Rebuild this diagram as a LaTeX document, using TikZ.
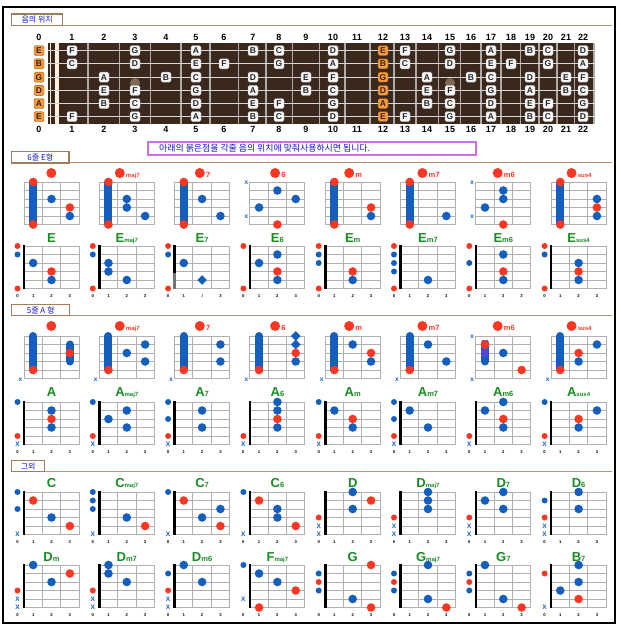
\documentclass[tikz,border=0pt]{standalone}
\usepackage{fontspec}
\setmainfont{Liberation Sans}
\newfontfamily\krfont{Noto Sans CJK KR}
\definecolor{cblue}{RGB}{20,95,190}
\definecolor{cred}{RGB}{250,55,35}
\definecolor{cgreen}{RGB}{25,140,35}
\definecolor{hdrline}{RGB}{185,150,115}
\definecolor{hdrbox}{RGB}{160,125,90}
\definecolor{board}{RGB}{58,40,28}
\definecolor{orangelab}{RGB}{245,155,65}
\definecolor{violetb}{RGB}{205,110,235}
\definecolor{hblue}{RGB}{20,20,205}
\definecolor{fretc}{RGB}{175,170,165}
\definecolor{strc}{RGB}{215,215,215}
\definecolor{markc}{RGB}{125,105,85}
\definecolor{purp}{RGB}{85,70,210}
\tikzset{
  gline/.style={draw=gray!62,line width=0.9pt},
  gname/.style={text=cgreen,font=\bfseries\fontsize{13}{13}\selectfont,inner sep=0pt},
  rsuf/.style={text=cred,font=\bfseries\fontsize{7.5}{7.5}\selectfont,inner sep=0pt},
  numlab/.style={font=\bfseries\fontsize{4.2}{4.2}\selectfont,inner sep=0pt},
  mutex/.style={text=cblue,font=\bfseries\fontsize{6.5}{6.5}\selectfont,inner sep=0pt},
  notebox/.style={draw=gray!65,fill=gray!6,rounded corners=1.5pt,minimum width=10pt,minimum height=10pt,inner sep=0pt,font=\bfseries\fontsize{8.5}{8.5}\selectfont,text=black!85},
  openbox/.style={notebox,fill=orangelab,draw=orange!60!black,text=black!75!orange},
  fnum/.style={font=\bfseries\fontsize{9}{9}\selectfont,inner sep=0pt},
  hdrframe/.style={draw=hdrbox,line width=1.4pt,fill=white},
  hdrrule/.style={draw=hdrline,line width=1.3pt},
  hdrtext/.style={text=hblue,font=\krfont\fontsize{8}{8}\selectfont,inner sep=0pt}
}
\newcommand\setg[4]{\def\gid{#1}\def\gx{#2}\def\gy{#3}\def\ny{#4}}
\newcommand\cgrid{%
  \foreach \i in {0,...,5}{\draw[gline] (\gx,{\gy+\i*8.5}) -- ({\gx+55},{\gy+\i*8.5});}%
  \foreach \j in {0,...,3}{\draw[gline] ({\gx+\j*18.333},\gy) -- ({\gx+\j*18.333},{\gy+42.5});}}
\newcommand\cgridB[1][2]{\cgrid
  \draw[black,line width=2.6pt] (\gx,{\gy-0.6}) -- (\gx,{\gy+43.1});
  \node[numlab] (\gid-n0) at ({\gx-6.5},{\gy+50}) {0};
  \node[numlab] (\gid-n1) at ({\gx+9.17},{\gy+50}) {1};
  \node[numlab] (\gid-n2) at ({\gx+27.5},{\gy+50}) {#1};
  \node[numlab] (\gid-n3) at ({\gx+45.83},{\gy+50}) {3};}
\newcommand\cbd[2]{\fill[cblue] ({\gx+(#1-0.5)*18.333},{\gy+(#2-1)*8.5}) circle (4.3pt);}
\newcommand\crd[2]{\fill[cred] ({\gx+(#1-0.5)*18.333},{\gy+(#2-1)*8.5}) circle (4.3pt);}
\newcommand\cbo[1]{\fill[cblue] ({\gx-6.5},{\gy+(#1-1)*8.5}) circle (3pt);}
\newcommand\cro[1]{\fill[cred] ({\gx-6.5},{\gy+(#1-1)*8.5}) circle (3pt);}
\newcommand\cmx[1]{\node[mutex] (\gid-x#1) at ({\gx-6.5},{\gy+(#1-1)*8.5}) {X};}
\newcommand\cmxa[1]{\node[mutex] (\gid-x#1) at ({\gx-3.5},{\gy+(#1-1)*8.5+0.8}) {x};}
\newcommand\cbr[3]{\draw[cblue,line width=8pt,line cap=round] ({\gx+(#1-0.5)*18.333},{\gy+(#2-1)*8.5}) -- ({\gx+(#1-0.5)*18.333},{\gy+(#3-1)*8.5});}
\newcommand\cdm[2]{\fill[cblue] ({\gx+(#1-0.5)*18.333},{\gy+(#2-1)*8.5}) +(0,-4.8) -- +(4.8,0) -- +(0,4.8) -- +(-4.8,0) -- cycle;}
\newcommand\crn[1]{\node[rsuf,anchor=base] (\gid-nm) at ({\gx+28},{\ny+4.3}) {\hspace*{11pt}#1};
  \fill[cred] ([xshift=5pt,yshift=4.3pt]\gid-nm.base west) circle (5pt);}
\newcommand\ssm{\fontsize{6}{6}\selectfont}
\newcommand\cgn[2]{\node[gname,anchor=base] (\gid-nm) at ({\gx+27.5},{\ny+4.7}) {#1{\fontsize{7.5}{7.5}\selectfont#2}};}
\def\fretxs{39,72,104,135,166,196,224,253,279,306,333,357,383,405,427,450,471,491,511,530,548,566,583}
\begin{document}
\begin{tikzpicture}[x=1pt,y=-1pt]
\useasboundingbox (0,0) rectangle (621,627);
\fill[white] (0,0) rectangle (621,627);
\draw[black,line width=2.2pt] (3,7) rectangle (615,623);
% headers
\draw[hdrrule] (62.7,25.2) -- (612,25.2);
\draw[hdrframe] (11.7,14) rectangle (62.7,25.7);
\node[hdrtext] (h1) at (37.2,20) {음의 위치};
\draw[hdrrule] (69,162.4) -- (612,162.4);
\draw[hdrframe] (11.7,151.7) rectangle (69,162.9);
\node[hdrtext] (h2) at (40.3,157.3) {6줄 E형};
\draw[hdrrule] (69.7,315.3) -- (612,315.3);
\draw[hdrframe] (11.7,304.3) rectangle (69.7,315.7);
\node[hdrtext] (h3) at (40.7,310) {5줄 A 형};
\draw[hdrrule] (44.7,471.2) -- (612,471.2);
\draw[hdrframe] (11.7,460.7) rectangle (44.7,471.6);
\node[hdrtext] (h4) at (28.2,466.2) {그외};
% fretboard
\fill[board] (48,43) rectangle (595,124);
\draw[white!85!brown,line width=0.8pt] (50.8,43) -- (50.8,124);
\fill[white!88!orange] (55,43) rectangle (58.5,124);
\foreach \w in {88,119.5,150.5,181,210,238.5,266,292.5,319.5,345,370,394,416,438.5,460.5,481,501,520.5,539,557,574.5,594}
  {\draw[fretc,line width=1.6pt] (\w,43) -- (\w,124);}
\foreach \s in {0,...,5}{\draw[strc,line width=1pt] (48,{50.7+13.2*\s}) -- (595,{50.7+13.2*\s});}
\fill[markc] (135,83) circle (5pt);
\fill[markc] (450,83) circle (5pt);
\foreach \f in {0,...,22}{
  \pgfmathsetmacro\xx{{\fretxs}[\f]}
  \node[fnum] (ft\f) at (\xx,37.5) {\f};
  \node[fnum] (fb\f) at (\xx,129) {\f};
}
\foreach \s/\l in {1/E,2/B,3/G,4/D,5/A,6/E}{\node[openbox] (o\s) at (39,{50.7+13.2*(\s-1)}) {\l};}
\foreach \s/\lst in {
  1/{1/F,3/G,5/A,7/B,8/C,10/D,12/E,13/F,15/G,17/A,19/B,20/C,22/D},
  2/{1/C,3/D,5/E,6/F,8/G,10/A,12/B,13/C,15/D,17/E,18/F,20/G,22/A},
  3/{2/A,4/B,5/C,7/D,9/E,10/F,12/G,14/A,16/B,17/C,19/D,21/E,22/F},
  4/{2/E,3/F,5/G,7/A,9/B,10/C,12/D,14/E,15/F,17/G,19/A,21/B,22/C},
  5/{2/B,3/C,5/D,7/E,8/F,10/G,12/A,14/B,15/C,17/D,19/E,20/F,22/G},
  6/{1/F,3/G,5/A,7/B,8/C,10/D,12/E,13/F,15/G,17/A,19/B,20/C,22/D}}{
  \foreach \f/\l in \lst {
    \pgfmathsetmacro\xx{{\fretxs}[\f]}
    \ifnum\f=12
      \node[openbox] (n\s-\f) at (\xx,{50.7+13.2*(\s-1)}) {\l};
    \else
      \node[notebox] (n\s-\f) at (\xx,{50.7+13.2*(\s-1)}) {\l};
    \fi
  }
}
% instruction
\draw[violetb,line width=1.2pt] (148,142) rectangle (476,155);
\node[anchor=west,inner sep=0pt,text=hblue,font=\krfont\fontsize{8.9}{8.9}\selectfont] (instr) at (159,148.5) {아래의 붉은점을 각줄 음의 위치에 맞춰사용하시면 됩니다.};
% ---------- Row A
\setg{a1}{24}{182}{173}\cgrid \cbr{1}{1}{6}\crd{1}{1}\crd{1}{6}\cbd{2}{3}\crd{3}{4}\cbd{3}{5}\crn{}
\setg{a2}{99.3}{182}{173}\cgrid \cbr{1}{1}{6}\crd{1}{1}\crd{1}{6}\cbd{2}{3}\cbd{2}{4}\cbd{3}{5}\crn{\ssm maj7}
\setg{a3}{174.6}{182}{173}\cgrid \cbr{1}{1}{6}\crd{1}{1}\crd{1}{6}\cbd{2}{3}\cbd{3}{5}\crn{7}
\setg{a4}{249.9}{182}{173}\cgrid \cmxa{1}\cmxa{5}\cbd{2}{2}\cbd{3}{3}\cbd{1}{4}\crd{2}{6}\crn{6}
\setg{a5}{325.2}{182}{173}\cgrid \cbr{1}{1}{6}\crd{1}{1}\crd{1}{6}\crd{3}{4}\cbd{3}{5}\crn{m}
\setg{a6}{400.5}{182}{173}\cgrid \cbr{1}{1}{6}\crd{1}{1}\crd{1}{6}\cbd{3}{5}\crn{m7}
\setg{a7}{475.8}{182}{173}\cgrid \cmxa{1}\cmxa{5}\cbd{2}{2}\cbd{2}{3}\cbd{1}{4}\crd{2}{6}\crn{m6}
\setg{a8}{551.1}{182}{173}\cgrid \cbr{1}{1}{6}\crd{1}{1}\crd{1}{6}\cbd{3}{3}\crd{3}{4}\cbd{3}{5}\crn{\ssm sus4}
% ---------- Row B
\setg{b1}{24}{246}{238}\cgridB \cro{1}\cbo{2}\cbd{1}{3}\crd{2}{4}\cbd{2}{5}\cro{6}\cgn{E}{}
\setg{b2}{99.3}{246}{238}\cgridB \cro{1}\cbo{2}\cbd{1}{3}\cbd{1}{4}\cbd{2}{5}\cro{6}\cgn{E}{\ssm maj7}
\setg{b3}{174.6}{246}{238}\cgridB[/] \draw[black!55,line width=2.6pt] (\gx,{\gy+27}) -- (\gx,{\gy+43.1});
  \cro{1}\cbo{2}\cbd{1}{3}\cdm{2}{5}\cro{6}\cgn{E}{7}
\setg{b4}{249.9}{246}{238}\cgridB \cro{1}\cbd{2}{2}\cbd{1}{3}\crd{2}{4}\cbd{2}{5}\cro{6}\cgn{E}{6}
\setg{b5}{325.2}{246}{238}\cgridB \cro{1}\cbo{2}\cbo{3}\crd{2}{4}\cbd{2}{5}\cro{6}\cgn{E}{m}
\setg{b6}{400.5}{246}{238}\cgridB \cro{1}\cbo{2}\cbo{3}\cbo{4}\cbd{2}{5}\cro{6}\cgn{E}{m7}
\setg{b7}{475.8}{246}{238}\cgridB \cro{1}\cbd{2}{2}\cbo{3}\crd{2}{4}\cbd{2}{5}\cro{6}\cgn{E}{m6}
\setg{b8}{551.1}{246}{238}\cgridB \cro{1}\cbo{2}\cbd{2}{3}\crd{2}{4}\cbd{2}{5}\cro{6}\cgn{E}{\ssm sus4}
% ---------- Row C
\setg{c1}{24}{336}{326}\cgrid \cbr{1}{1}{5}\cbr{3}{2}{4}\crd{1}{5}\crd{3}{3}\cmxa{6}\crn{}
\setg{c2}{99.3}{336}{326}\cgrid \cbr{1}{1}{5}\crd{1}{5}\cbd{2}{3}\cbd{3}{2}\cbd{3}{4}\cmxa{6}\crn{\ssm maj7}
\setg{c3}{174.6}{336}{326}\cgrid \cbr{1}{1}{5}\crd{1}{5}\cbd{3}{2}\cbd{3}{4}\cmxa{6}\crn{7}
\setg{c4}{249.9}{336}{326}\cgrid \cbr{1}{1}{5}\crd{1}{5}\cdm{3}{1}\cdm{3}{2}\crd{3}{3}\cbd{3}{4}\cmxa{6}\crn{6}
\setg{c5}{325.2}{336}{326}\cgrid \cbr{1}{1}{5}\crd{1}{5}\cbd{2}{2}\crd{3}{3}\cbd{3}{4}\cmxa{6}\crn{m}
\setg{c6}{400.5}{336}{326}\cgrid \cbr{1}{1}{5}\crd{1}{5}\cbd{2}{2}\cbd{3}{4}\cmxa{6}\crn{m7}
\setg{c7}{475.8}{336}{326}\cgrid \cmxa{1}\cmxa{6}\cbr{1}{2}{4}
  \fill[purp,rounded corners=2pt] ({\gx+5.5},{\gy+4}) rectangle ({\gx+12.9},{\gy+21});
  \crd{1}{2}\cbd{2}{3}\crd{3}{5}\crn{m6}
\setg{c8}{551.1}{336}{326}\cgrid \cbr{1}{1}{5}\crd{1}{5}\cbd{3}{2}\crd{2}{3}\cbd{2}{4}\cmxa{6}\crn{\ssm sus4}
% ---------- Row D
\setg{d1}{24}{402}{392}\cgridB \cbo{1}\cbd{2}{2}\crd{2}{3}\cbd{2}{4}\cro{5}\cmx{6}\cgn{A}{}
\setg{d2}{99.3}{402}{392}\cgridB \cbo{1}\cbd{2}{2}\cbd{1}{3}\cbd{2}{4}\cro{5}\cmx{6}\cgn{A}{\ssm maj7}
\setg{d3}{174.6}{402}{392}\cgridB \cbo{1}\cbd{2}{2}\cbo{3}\cbd{2}{4}\cro{5}\cmx{6}\cgn{A}{7}
\setg{d4}{249.9}{402}{392}\cgridB \cbd{2}{1}\cbd{2}{2}\crd{2}{3}\cbd{2}{4}\cro{5}\cmx{6}\cgn{A}{6}
\setg{d5}{325.2}{402}{392}\cgridB \cbo{1}\cbd{1}{2}\crd{2}{3}\cbd{2}{4}\cro{5}\cmx{6}\cgn{A}{m}
\setg{d6}{400.5}{402}{392}\cgridB \cbo{1}\cbd{1}{2}\cbo{3}\cbd{2}{4}\cro{5}\cmx{6}\cgn{A}{m7}
\setg{d7}{475.8}{402}{392}\cgridB \cbd{2}{1}\cbd{1}{2}\crd{2}{3}\cbd{2}{4}\cro{5}\cmx{6}\cgn{A}{m6}
\setg{d8}{551.1}{402}{392}\cgridB \cbo{1}\cbd{3}{2}\crd{2}{3}\cbd{2}{4}\cro{5}\cmx{6}\cgn{A}{\ssm sus4}
% ---------- Row E
\setg{e1}{24}{492}{483}\cgridB \cbo{1}\crd{1}{2}\cbo{3}\cbd{2}{4}\crd{3}{5}\cmx{6}\cgn{C}{}
\setg{e2}{99.3}{492}{483}\cgridB \cbo{1}\cbo{2}\cbo{3}\cbd{2}{4}\crd{3}{5}\cmx{6}\cgn{C}{\ssm maj7}
\setg{e3}{174.6}{492}{483}\cgridB \cbo{1}\crd{1}{2}\cbd{3}{3}\cbd{2}{4}\crd{3}{5}\cmx{6}\cgn{C}{7}
\setg{e4}{249.9}{492}{483}\cgridB \cbo{1}\crd{1}{2}\cbd{2}{3}\cbd{2}{4}\crd{3}{5}\cmx{6}\cgn{C}{6}
\setg{e5}{325.2}{492}{483}\cgridB \cbd{2}{1}\crd{3}{2}\cbd{2}{3}\cro{4}\cmx{5}\cmx{6}\cgn{D}{}
\setg{e6}{400.5}{492}{483}\cgridB \cbd{2}{1}\cbd{2}{2}\cbd{2}{3}\cro{4}\cmx{5}\cmx{6}\cgn{D}{\ssm maj7}
\setg{e7}{475.8}{492}{483}\cgridB \cbd{2}{1}\cbd{1}{2}\cbd{2}{3}\cro{4}\cmx{5}\cmx{6}\cgn{D}{7}
\setg{e8}{551.1}{492}{483}\cgridB \cbd{2}{1}\cbo{2}\cbd{2}{3}\cro{4}\cmx{5}\cmx{6}\cgn{D}{6}
% ---------- Row F
\setg{f1}{24}{565}{557}\cgridB \cbd{1}{1}\crd{3}{2}\cbd{2}{3}\cro{4}\cmx{5}\cmx{6}\cgn{D}{m}
\setg{f2}{99.3}{565}{557}\cgridB \cbd{1}{1}\cbd{1}{2}\cbd{2}{3}\cro{4}\cmx{5}\cmx{6}\cgn{D}{m7}
\setg{f3}{174.6}{565}{557}\cgridB \cbd{1}{1}\cbo{2}\cbd{2}{3}\cro{4}\cmx{5}\cmx{6}\cgn{D}{m6}
\setg{f4}{249.9}{565}{557}\cgridB \cbo{1}\cbd{1}{2}\cbd{2}{3}\crd{3}{4}\cmx{5}\crd{1}{6}\cgn{F}{\ssm maj7}
\setg{f5}{325.2}{565}{557}\cgridB \crd{3}{1}\cbo{2}\cro{3}\cbo{4}\cbd{2}{5}\crd{3}{6}\cgn{G}{}
\setg{f6}{400.5}{565}{557}\cgridB \cbd{2}{1}\cbo{2}\cro{3}\cbo{4}\cbd{2}{5}\crd{3}{6}\cgn{G}{\ssm maj7}
\setg{f7}{475.8}{565}{557}\cgridB \cbd{1}{1}\cbo{2}\cro{3}\cbo{4}\cbd{2}{5}\crd{3}{6}\cgn{G}{7}
\setg{f8}{551.1}{565}{557}\cgridB \cbd{2}{1}\cro{2}\cbd{2}{3}\cbd{1}{4}\crd{2}{5}\cmx{6}\cgn{B}{7}
\end{tikzpicture}
\end{document}
